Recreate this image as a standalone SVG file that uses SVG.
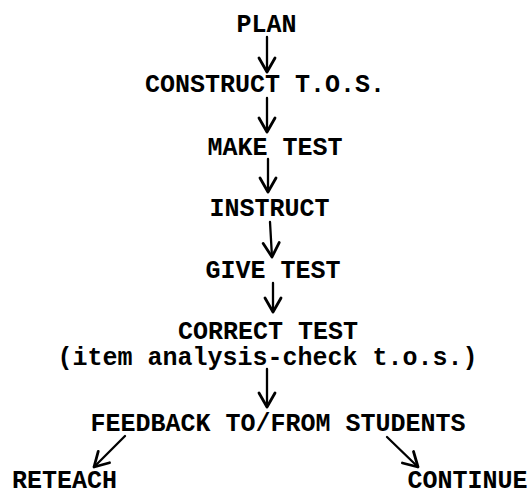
<svg xmlns="http://www.w3.org/2000/svg" width="532" height="492" viewBox="0 0 532 492">
  <defs>
    <marker id="head" markerUnits="userSpaceOnUse" markerWidth="30" markerHeight="30" viewBox="-15 -15 30 30" refX="0" refY="0" orient="auto" overflow="visible">
      <path d="M-14,-8 L0,0 L-14,8" fill="none" stroke="#000" stroke-width="2.8" stroke-linecap="round" stroke-linejoin="round"/>
    </marker>
    <style>
      .t { font-family: "Liberation Mono", "Courier New", monospace; font-size: 25px; font-weight: bold; fill: #000; text-anchor: middle; }
      .c { fill: none; stroke: #000; stroke-width: 2.3; stroke-linecap: round; marker-end: url(#head); }
    </style>
  </defs>
  <rect width="532" height="492" fill="#fff"/>

  <g id="plan"><text class="t" x="266.5" y="32">PLAN</text></g>
  <g id="construct"><text class="t" x="265" y="92">CONSTRUCT T.O.S.</text></g>
  <g id="make-test"><text class="t" x="275" y="155">MAKE TEST</text></g>
  <g id="instruct"><text class="t" x="269.5" y="216">INSTRUCT</text></g>
  <g id="give-test"><text class="t" x="273" y="278">GIVE TEST</text></g>
  <g id="correct-test">
    <text class="t" x="268" y="339">CORRECT TEST</text>
    <text class="t" x="267.5" y="365">(item analysis-check t.o.s.)</text>
  </g>
  <g id="feedback"><text class="t" x="278" y="431">FEEDBACK TO/FROM STUDENTS</text></g>
  <g id="reteach"><text class="t" x="64.5" y="488">RETEACH</text></g>
  <g id="continue"><text class="t" x="467.5" y="488">CONTINUE</text></g>

  <g id="connectors">
    <line class="c" x1="267" y1="37" x2="267" y2="72"/>
    <line class="c" x1="267" y1="98" x2="267" y2="132"/>
    <line class="c" x1="268" y1="159" x2="268" y2="192"/>
    <line class="c" x1="270" y1="222" x2="272" y2="257"/>
    <line class="c" x1="273" y1="283" x2="273" y2="312"/>
    <line class="c" x1="267" y1="369" x2="267" y2="407"/>
    <line class="c" x1="125" y1="436" x2="94" y2="467"/>
    <line class="c" x1="387" y1="437" x2="418" y2="467"/>
  </g>
</svg>
